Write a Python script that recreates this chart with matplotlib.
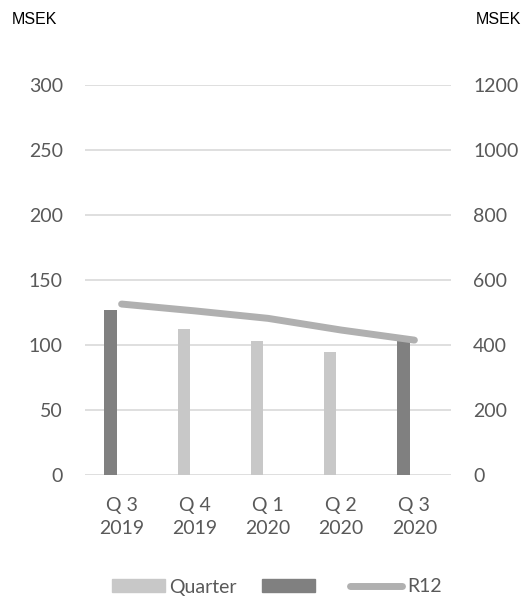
import matplotlib.pyplot as plt
from matplotlib.patches import Patch
from matplotlib.lines import Line2D
import numpy as np

quarters = ['Q 3\n2019', 'Q 4\n2019', 'Q 1\n2020', 'Q 2\n2020', 'Q 3\n2020']
quarter_vals = [0, 112, 103, 95, 0]
dark_vals = [127, 0, 0, 0, 103]
r12 = [526, 505, 482, 446, 415]

light = '#c8c8c8'
dark = '#808080'
linec = '#b0b0b0'
txt = '#595959'

plt.rcParams['font.family'] = ['Lato', 'DejaVu Sans']

fig = plt.figure(figsize=(5.23, 5.99), dpi=100)
ax = fig.add_axes([85/523, 1 - 475/599, 366/523, 390/599])
ax2 = ax.twinx()

x = np.arange(len(quarters))
off = -0.15
ax.bar(x + off, quarter_vals, width=0.17, color=light, zorder=2)
ax.bar(x + off, dark_vals, width=0.17, color=dark, zorder=2)
ax2.plot(x, r12, color=linec, lw=5, solid_capstyle='round', zorder=3)

ax.set_xlim(-0.5, 4.5)
ax.set_ylim(0, 300)
ax2.set_ylim(0, 1200)
ax.set_yticks(range(0, 301, 50))
ax2.set_yticks(range(0, 1201, 200))
ax.yaxis.grid(True, color='#d9d9d9', lw=1.2, zorder=0)
ax.set_axisbelow(True)
for a in (ax, ax2):
    for s in a.spines.values():
        s.set_visible(False)
    a.tick_params(length=0, labelsize=14, colors=txt)
ax.tick_params(axis='y', pad=16)
ax2.tick_params(axis='y', pad=16)
ax.tick_params(axis='x', pad=16)
ax.set_xticks(x)
ax.set_xticklabels(quarters, linespacing=1.4)

fig.text(12/523, 1 - 20/599, 'MSEK', fontsize=11.5, family='Liberation Sans',
         color='#000000', va='center', ha='left')
fig.text(521/523, 1 - 20/599, 'MSEK', fontsize=11.5, family='Liberation Sans',
         color='#000000', va='center', ha='right')

handles = [Patch(color=light), Patch(color=dark),
           Line2D([0], [0], color=linec, lw=5, solid_capstyle='round')]
fig.legend(handles, ['Quarter', ' ', 'R12'], loc='center', ncol=3,
           bbox_to_anchor=(277/523, 1 - 587/599), frameon=False,
           fontsize=14, labelcolor=txt, handlelength=2.7, handleheight=0.6,
           handletextpad=0.25, columnspacing=1.3)

fig.savefig('out.png', dpi=100)
